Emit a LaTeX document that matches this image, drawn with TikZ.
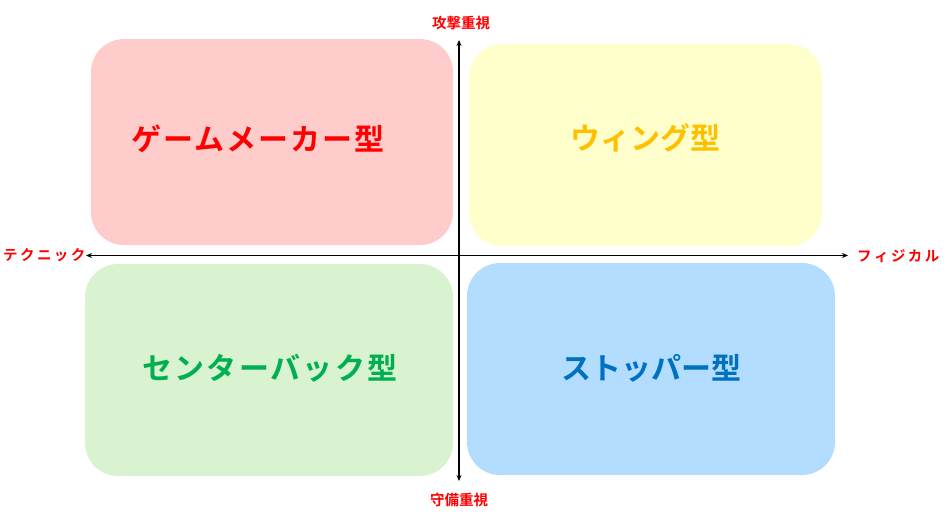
\documentclass[tikz,border=0pt]{standalone}
\usepackage{fontspec}
\newfontfamily\jp{Noto Sans CJK JP}[BoldFont={* Bold}]
\usetikzlibrary{arrows.meta}
\definecolor{boxred}{HTML}{FFCCCC}
\definecolor{boxyellow}{HTML}{FFFFCC}
\definecolor{boxgreen}{HTML}{D9F2D0}
\definecolor{boxblue}{HTML}{B3DDFF}
\definecolor{txtred}{HTML}{FF0000}
\definecolor{txtgold}{HTML}{FFC000}
\definecolor{txtgreen}{HTML}{00B050}
\definecolor{txtblue}{HTML}{0070C0}
\tikzset{
  quad/.style={rounded corners=33pt, draw=none},
  quadtext/.style={font=\jp\bfseries\fontsize{30}{34}\selectfont, inner sep=0pt},
  widetext/.style={font=\jp\bfseries\fontsize{30}{34}\selectfont\addfontfeature{LetterSpace=7}, inner sep=0pt},
  axislabel/.style={font=\jp\bfseries\fontsize{14.5}{16}\selectfont, text=txtred, inner sep=0pt},
  axis/.style={line width=1.6pt, {Stealth[length=6pt,width=5pt]}-{Stealth[length=6pt,width=5pt]}}
}
\begin{document}
\begin{tikzpicture}[x=1pt,y=-1pt]
\useasboundingbox (0,0) rectangle (949,530);
\fill[quad, boxred] (91,39) rectangle (453,245);
\fill[quad, boxyellow] (469,44) rectangle (822,246);
\fill[quad, boxgreen] (85,264) rectangle (453,476);
\fill[quad, boxblue] (467,263) rectangle (835,475);
\node[widetext, text=txtred] (gm) at (258,139) {ゲームメーカー型};
\node[quadtext, text=txtgold] (wg) at (645,138) {ウィング型};
\node[widetext, text=txtgreen] (cb) at (270,368) {センターバック型};
\node[quadtext, text=txtblue] (st) at (651,368) {ストッパー型};
\coordinate (top) at (459,40);
\coordinate (bot) at (459,481);
\coordinate (lft) at (86,255.5);
\coordinate (rgt) at (848,255.5);
\draw[axis] (bot) -- (top);
\draw[axis] (lft) -- (rgt);
\node[axislabel] (lt) at (461,23) {攻撃重視};
\node[axislabel] (lb) at (459,500) {守備重視};
\node[axislabel, anchor=west] (ll) at (3,255) {テ\,ク\,ニ\,ッ\,ク};
\node[axislabel, anchor=west] (lr) at (857,256) {フ\,ィ\,ジ\,カ\,ル};
\end{tikzpicture}
\end{document}
